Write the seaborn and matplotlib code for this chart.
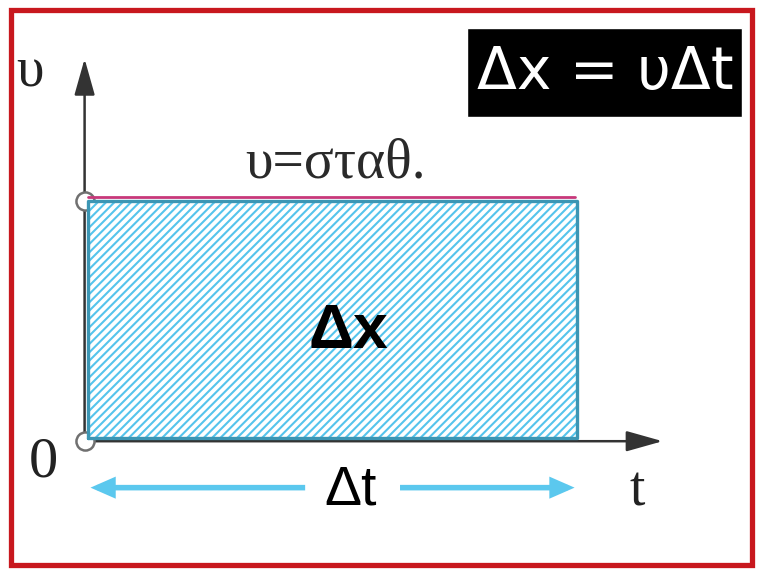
import pandas as pd
import matplotlib.pyplot as plt
from matplotlib.patches import Rectangle
import seaborn as sns

# Diagram values: constant speed over a time interval
t_start, t_end = 0.0, 10.0
v_const = 5.0
t_axis_max = 11.75
v_axis_max = 8.0

formula = "Δx = υΔt"
speed_label = "υ=σταθ."
area_label = "Δx"
interval_label = "Δt"

sns.set_theme(style="white")
plt.rcParams["hatch.linewidth"] = 1.5

fig = plt.figure(figsize=(7.57, 5.72), dpi=100)
ax = fig.add_axes([0, 0, 1, 1])
ax.set_xlim(-1.80, 13.68)
ax.set_ylim(-2.83, 9.24)
ax.axis("off")

serif = ["Liberation Serif", "DejaVu Serif"]
ax_col = "#333333"
off = 0.07  # axes sit just outside the rectangle

# axes with arrow heads
axis_arrow = dict(arrowstyle="-|>,head_length=1.6,head_width=0.45",
                  color=ax_col, lw=1.8, shrinkA=0, shrinkB=0, mutation_scale=14)
ax.annotate("", xy=(t_start - off, v_axis_max), xytext=(t_start - off, -off),
            arrowprops=axis_arrow, zorder=1)
ax.annotate("", xy=(t_axis_max, -off), xytext=(t_start - off, -off),
            arrowprops=axis_arrow, zorder=1)

# open circles at origin and at v
sns.scatterplot(x=[t_start - off, t_start - off], y=[-off, v_const], s=170,
                facecolor="white", edgecolor="#707070", linewidth=1.8,
                zorder=2, ax=ax)

# hatched area under v = const
ax.fill_between([t_start, t_end], 0, v_const, facecolor="white",
                edgecolor="#55c4ec", hatch="////", linewidth=0, zorder=3)

rect = pd.DataFrame({
    "t": [t_start, t_end, t_end, t_start, t_start],
    "v": [0, 0, v_const, v_const, 0],
})
sns.lineplot(data=rect, x="t", y="v", sort=False, estimator=None,
             color="#3c96b4", linewidth=2.4, zorder=4, ax=ax)
sns.lineplot(x=[t_start, t_end - 0.05], y=[v_const + 0.08] * 2,
             color="#c8387a", linewidth=2.0, zorder=4, ax=ax)

# Δt arrows under the t axis
arrow_v = -1.05
ap = dict(arrowstyle="-|>,head_length=0.8,head_width=0.35", color="#5bc8ee",
          lw=4, shrinkA=0, shrinkB=0, mutation_scale=14,
          capstyle="butt", joinstyle="miter")
ax.annotate("", xy=(t_start + 0.05, arrow_v), xytext=(4.44, arrow_v), arrowprops=ap)
ax.annotate("", xy=(t_end - 0.05, arrow_v), xytext=(6.38, arrow_v), arrowprops=ap)

# labels
ax.text(-1.19, 7.72, "υ", family=serif, fontsize=40, ha="center", va="center", color="#222")
ax.text(-0.92, -0.51, "0", family=serif, fontsize=42, ha="center", va="center", color="#222")
ax.text(11.23, -1.14, "t", family=serif, fontsize=40, ha="center", va="center", color="#222")
ax.text(5.07, 5.80, speed_label, family=serif, fontsize=40, ha="center", va="center", color="#2a2a2a")
ax.text(5.32, 2.24, area_label, family="Liberation Sans", fontweight="bold",
        fontsize=45, ha="center", va="center", color="black", zorder=6)
ax.text(5.38, -1.10, interval_label, family="Liberation Sans", fontsize=40,
        ha="center", va="center", color="black")

# formula box
ax.add_patch(Rectangle((467 / 757, 1 - 117 / 572), 275 / 757, 89 / 572,
                       transform=ax.transAxes, facecolor="black", zorder=6))
ax.text(0.799, 0.874, formula, transform=ax.transAxes, color="white",
        fontsize=42, ha="center", va="center", family="DejaVu Sans", zorder=7)

# red frame
ax.add_patch(Rectangle((11 / 757, 1 - 565 / 572), 741 / 757, 555 / 572,
                       transform=ax.transAxes, fill=False, edgecolor="#c8181e",
                       linewidth=3.8, zorder=8))

fig.savefig("out.png", dpi=100)
